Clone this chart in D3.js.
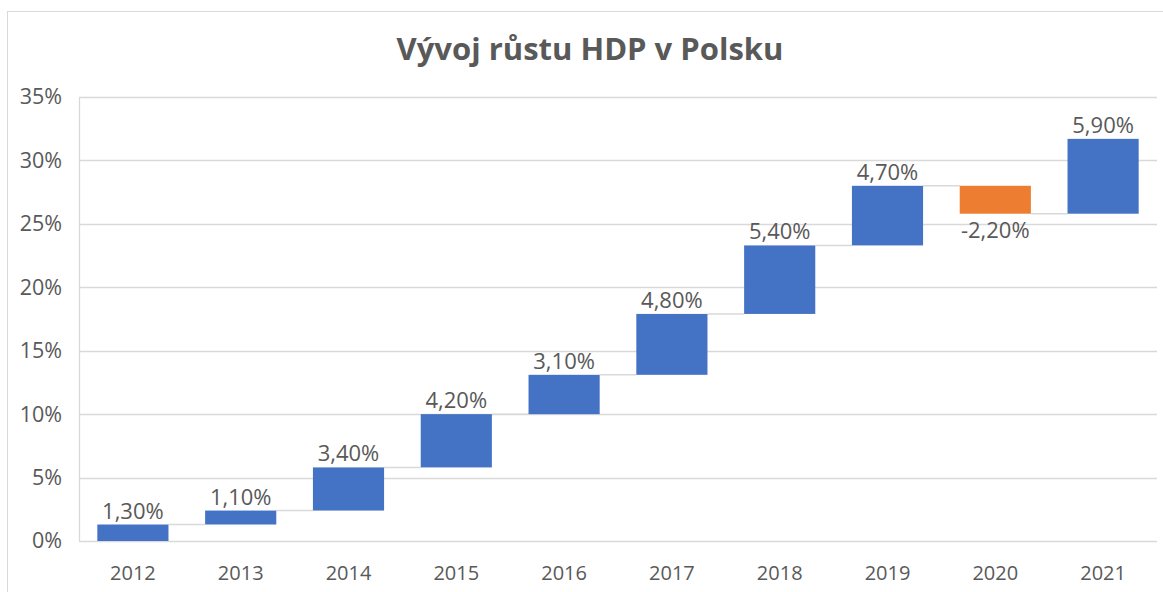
<!DOCTYPE html>
<html>
<head>
<meta charset="utf-8">
<script src="https://cdn.jsdelivr.net/npm/d3@7"></script>
<style>
  body { margin: 0; background: #fff; }
  svg { display: block; font-family: "Open Sans", sans-serif; }
</style>
</head>
<body>
<svg id="chart"></svg>
<script>
// data
const years = ['2012', '2013', '2014', '2015', '2016', '2017', '2018', '2019', '2020', '2021'];
const changes = [1.3, 1.1, 3.4, 4.2, 3.1, 4.8, 5.4, 4.7, -2.2, 5.9];
const yTicks = [0, 5, 10, 15, 20, 25, 30, 35];
const title = 'Vývoj růstu HDP v Polsku';

const width = 1163, height = 592;
const margin = { top: 97, right: 6, bottom: 51, left: 79 };
const innerW = width - margin.left - margin.right;
const innerH = height - margin.top - margin.bottom;
const fontFam = '"Open Sans", sans-serif';

// running totals for the waterfall
const ends = Array.from(d3.cumsum(changes));
const rows = years.map((y, i) => ({
  year: y,
  change: changes[i],
  start: i === 0 ? 0 : ends[i - 1],
  end: ends[i]
}));

const svg = d3.select('#chart').attr('width', width).attr('height', height);

// outer chart frame
svg.append('rect')
  .attr('x', 7.5).attr('y', 11.5)
  .attr('width', width).attr('height', height)
  .attr('fill', 'none').attr('stroke', '#d9d9d9');

const chart = svg.append('g').attr('transform', `translate(${margin.left},${margin.top})`);

const x = d3.scaleBand().domain(years).range([0, innerW]).paddingInner(0.34).paddingOuter(0.17);
const y = d3.scaleLinear().domain([0, 35]).range([innerH, 0]);

// gridlines
chart.append('g')
  .selectAll('line')
  .data(yTicks)
  .join('line')
  .attr('x1', 0).attr('x2', innerW)
  .attr('y1', d => Math.round(y(d)) + 0.5).attr('y2', d => Math.round(y(d)) + 0.5)
  .attr('stroke', '#d9d9d9').attr('stroke-width', 1.3);

// y axis line
chart.append('line')
  .attr('x1', 0.5).attr('x2', 0.5)
  .attr('y1', y(35)).attr('y2', y(0))
  .attr('stroke', '#d9d9d9').attr('stroke-width', 1.3);

// y axis labels
const yAxis = d3.axisLeft(y).tickValues(yTicks).tickSize(0).tickPadding(17).tickFormat(d => d + '%');
chart.append('g').call(yAxis)
  .call(g => g.select('.domain').remove())
  .selectAll('text')
  .attr('fill', '#595959').style('font-size', '21.5px').style('font-family', fontFam);

// x axis labels
const xAxis = d3.axisBottom(x).tickSize(0).tickPadding(25);
chart.append('g').attr('transform', `translate(0,${innerH})`).call(xAxis)
  .call(g => g.select('.domain').remove())
  .selectAll('text')
  .attr('fill', '#595959').style('font-size', '20px').style('font-family', fontFam);

// connector lines between bars
chart.append('g')
  .selectAll('line')
  .data(rows.slice(0, -1))
  .join('line')
  .attr('x1', d => x(d.year) + x.bandwidth())
  .attr('x2', (d, i) => x(years[i + 1]))
  .attr('y1', d => y(d.end)).attr('y2', d => y(d.end))
  .attr('stroke', '#d9d9d9').attr('stroke-width', 1.5);

// bars
chart.append('g')
  .selectAll('rect')
  .data(rows)
  .join('rect')
  .attr('x', d => x(d.year))
  .attr('width', x.bandwidth())
  .attr('y', d => y(Math.max(d.start, d.end)))
  .attr('height', d => Math.abs(y(d.start) - y(d.end)))
  .attr('fill', d => d.change < 0 ? '#ED7D31' : '#4472C4');

// value labels
const fmt = d => d.toFixed(2).replace('.', ',') + '%';
chart.append('g')
  .selectAll('text')
  .data(rows)
  .join('text')
  .attr('x', d => x(d.year) + x.bandwidth() / 2)
  .attr('y', d => d.change < 0 ? y(Math.min(d.start, d.end)) + 24 : y(Math.max(d.start, d.end)) - 6)
  .attr('text-anchor', 'middle')
  .attr('fill', '#595959')
  .style('font-size', '22px')
  .text(d => fmt(d.change));

// title
svg.append('text')
  .attr('x', 590).attr('y', 60)
  .attr('text-anchor', 'middle')
  .attr('fill', '#595959')
  .style('font-size', '31px').style('font-weight', 'bold')
  .text(title);
</script>
</body>
</html>
